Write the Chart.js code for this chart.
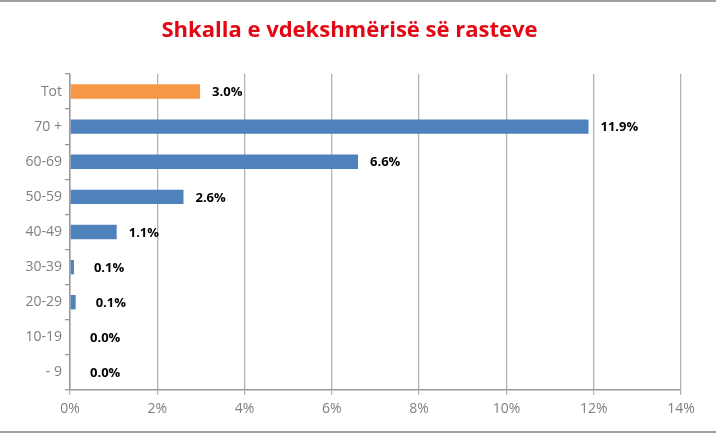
<!DOCTYPE html>
<html>
<head>
<meta charset="utf-8">
<script src="https://cdn.jsdelivr.net/npm/chart.js@4"></script>
<style>
  html, body { margin: 0; padding: 0; background: #fff; }
  #wrap { width: 716px; height: 433px; position: relative; box-sizing: border-box; border-top: 2px solid #a0a0a0; border-bottom: 2px solid #a0a0a0; }
  canvas { display: block; }
</style>
</head>
<body>
<div id="wrap"><canvas id="c" width="716" height="429"></canvas></div>
<script>
const categories = ["Tot", "70 +", "60-69", "50-59", "40-49", "30-39", "20-29", "10-19", "- 9"];
const rates = [2.98, 11.88, 6.6, 2.6, 1.07, 0.09, 0.13, 0.0, 0.0];
const labels = ["3.0%", "11.9%", "6.6%", "2.6%", "1.1%", "0.1%", "0.1%", "0.0%", "0.0%"];
const barColors = ["#f79646", "#4f81bd", "#4f81bd", "#4f81bd", "#4f81bd", "#4f81bd", "#4f81bd", "#4f81bd", "#4f81bd"];
const xTicks = [0, 2, 4, 6, 8, 10, 12, 14];
const titleText = "Shkalla e vdekshmërisë së rasteve";

const valueLabels = {
  id: 'valueLabels',
  afterDatasetsDraw(chart) {
    const ctx = chart.ctx;
    const meta = chart.getDatasetMeta(0);
    ctx.save();
    ctx.font = "bold 13px 'Open Sans', sans-serif";
    ctx.fillStyle = "#000";
    ctx.textAlign = "left";
    ctx.textBaseline = "middle";
    meta.data.forEach((bar, i) => {
      const off = rates[i] < 0.5 ? 20 : 12;
      ctx.fillText(labels[i], bar.x + off, bar.y + 1);
    });
    ctx.restore();
  }
};

new Chart(document.getElementById('c'), {
  type: 'bar',
  data: {
    labels: categories,
    datasets: [{
      data: rates,
      backgroundColor: barColors,
      borderWidth: 0,
      barPercentage: 0.41,
      categoryPercentage: 1.0
    }]
  },
  options: {
    indexAxis: 'y',
    responsive: false,
    animation: false,
    devicePixelRatio: 1,
    layout: { padding: { left: 18, right: 35, top: 0, bottom: 11 } },
    plugins: {
      legend: { display: false },
      tooltip: { enabled: false },
      title: {
        display: true,
        text: titleText,
        color: "#e30613",
        font: { family: "'Open Sans', sans-serif", size: 22, weight: 'bold' },
        padding: { top: 16, bottom: 29.6 }
      }
    },
    scales: {
      x: {
        min: 0, max: 14,
        afterBuildTicks(axis) { axis.ticks = xTicks.map(v => ({ value: v })); },
        ticks: {
          color: "#7f7f7f",
          font: { family: "'Open Sans', sans-serif", size: 14 },
          padding: 6,
          callback: v => v + "%"
        },
        grid: { color: "#b3b3b3", lineWidth: 1.3, tickLength: 5, drawTicks: true },
        border: { color: "#9a9a9a", width: 1.5 },
        afterFit(axis) { axis.height = 30; }
      },
      y: {
        ticks: {
          color: "#7f7f7f",
          font: { family: "'Open Sans', sans-serif", size: 14 },
          padding: 3
        },
        grid: { drawOnChartArea: false, drawTicks: true, tickLength: 5, color: "#9a9a9a", lineWidth: 1.3, offset: true },
        border: { color: "#9a9a9a", width: 1.5 },
        afterFit(axis) { axis.width = 52; }
      }
    }
  },
  plugins: [valueLabels]
});
</script>
</body>
</html>
